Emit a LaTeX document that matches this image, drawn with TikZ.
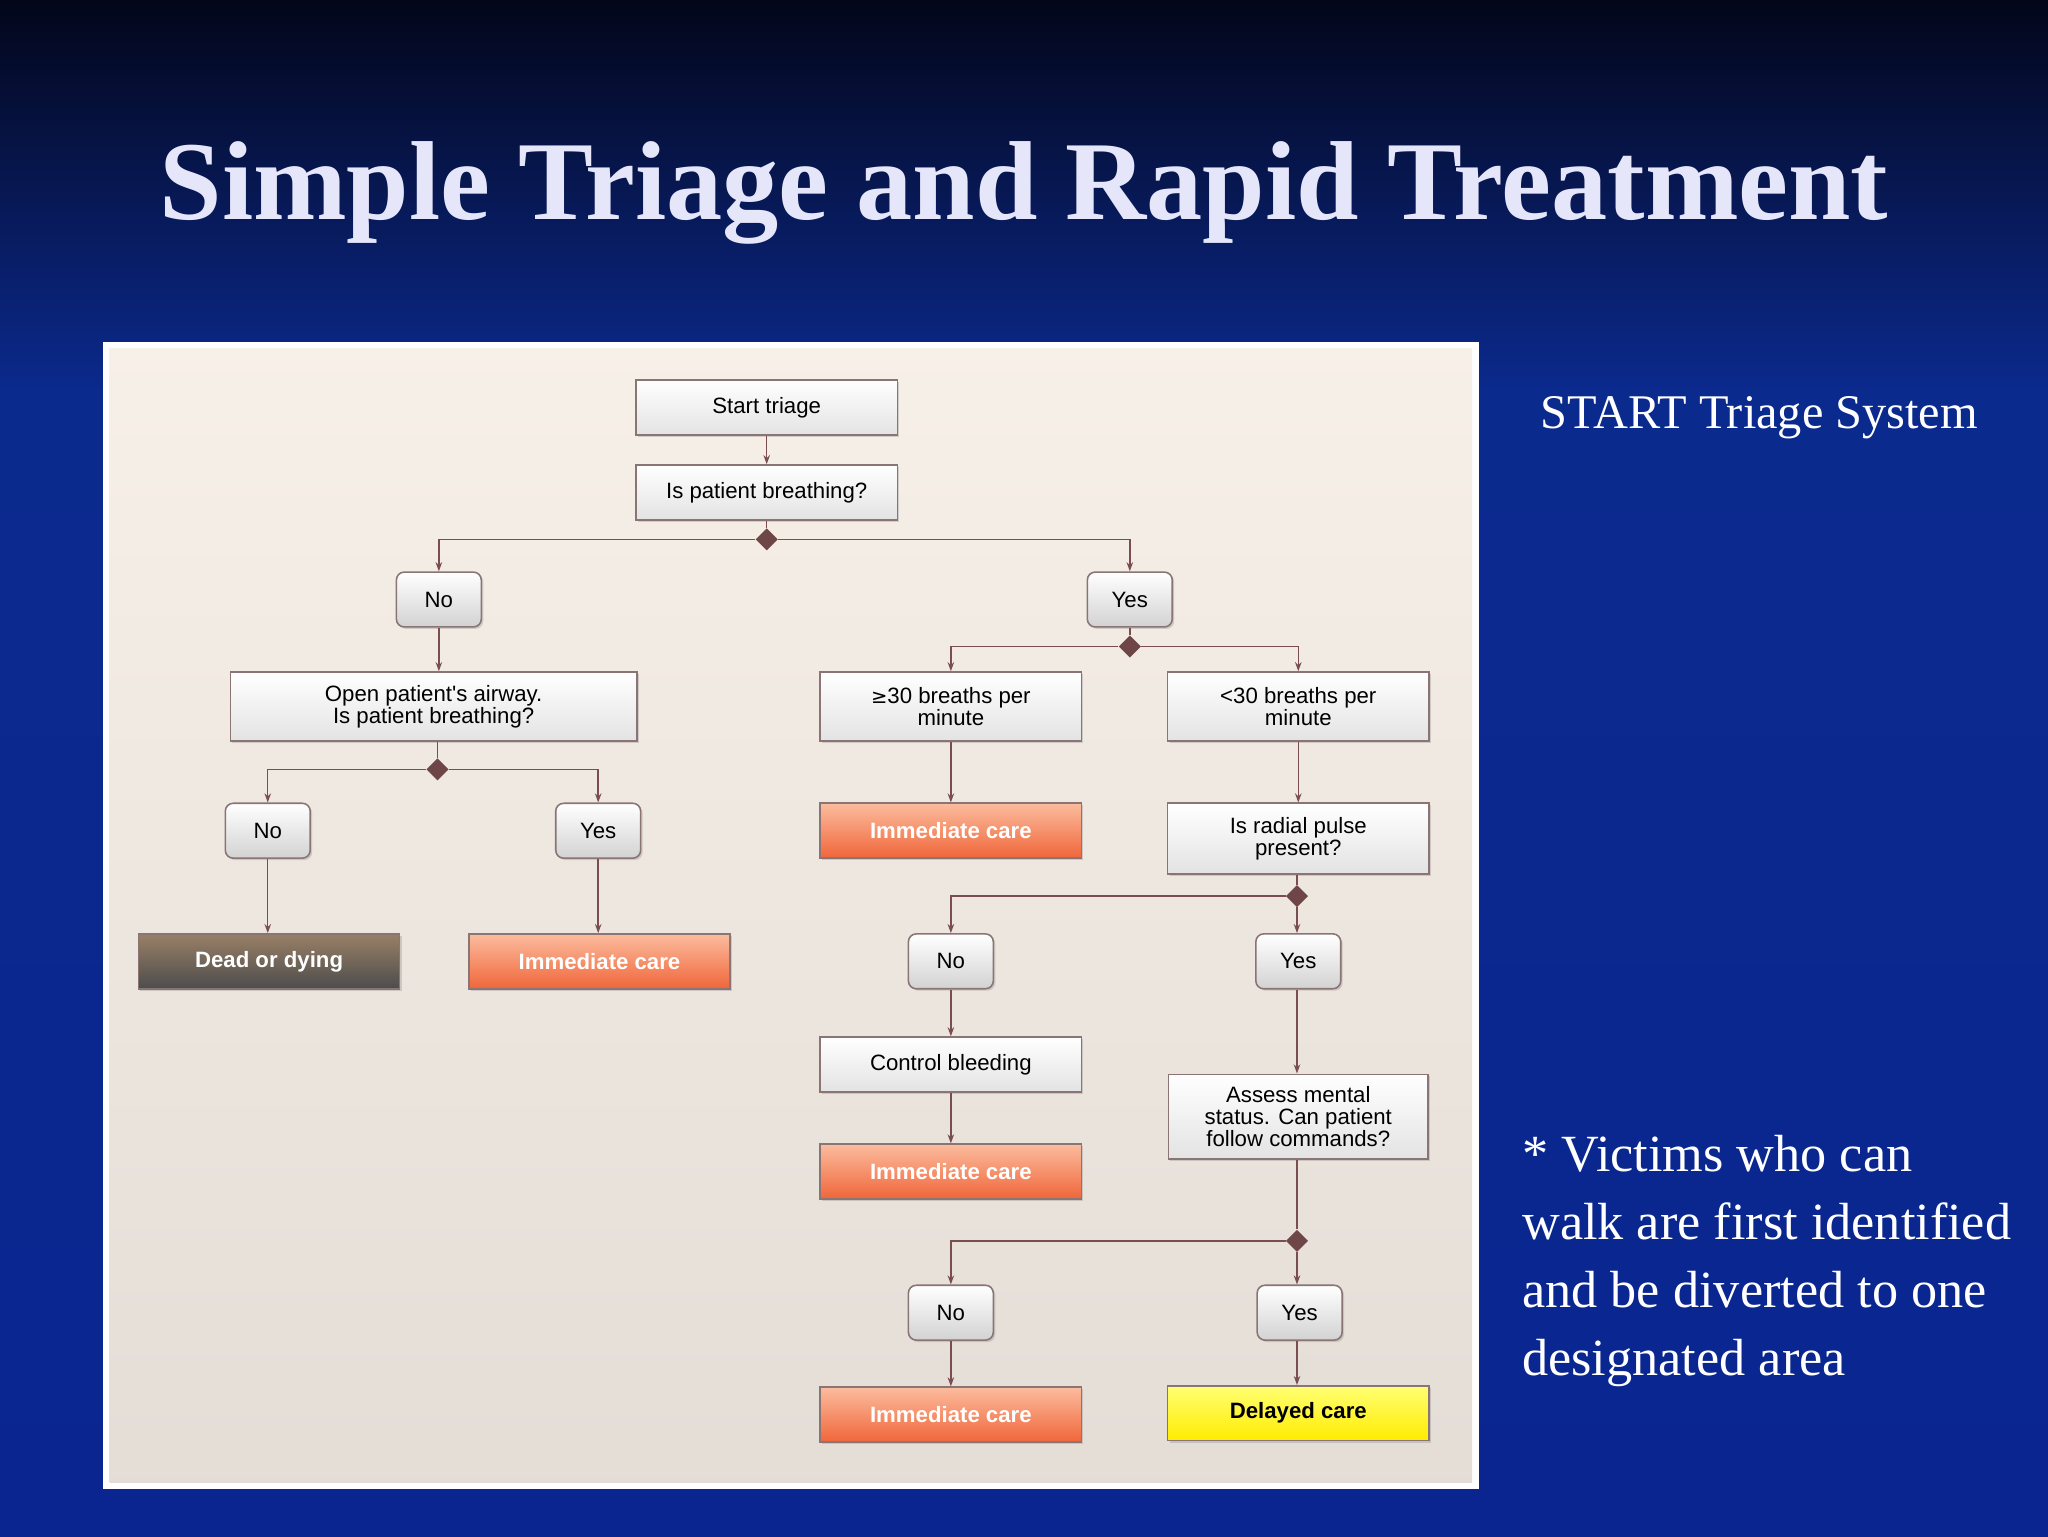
\documentclass[tikz,border=0pt]{standalone}
\usepackage{fontspec}
\setmainfont{Liberation Serif}
\newfontfamily\chartfont{Liberation Sans}
\usetikzlibrary{shapes.geometric,arrows.meta,shadows}
\definecolor{navytop}{HTML}{03061A}
\definecolor{navy}{HTML}{0B2A8E}
\definecolor{navylow}{HTML}{0A2590}
\definecolor{cream}{HTML}{F6EEE6}
\definecolor{lnc}{HTML}{7A4E50}
\definecolor{brd}{HTML}{8A7474}
\definecolor{titlec}{HTML}{E6E6FA}
\definecolor{orlight}{HTML}{FBBC9E}
\definecolor{ordark}{HTML}{F0663A}
\tikzset{
  box/.style={draw=brd,line width=1.2pt,top color=white,bottom color=gray!22,minimum width=200pt,inner sep=0pt,align=center,font=\chartfont\fontsize{17}{17}\selectfont,drop shadow={shadow xshift=1.5pt,shadow yshift=-1.5pt,opacity=.3}},
  ans/.style={box,rounded corners=6pt,minimum width=65pt,minimum height=42pt,top color=white,bottom color=gray!35},
  imm/.style={box,minimum height=42pt,top color=orlight,bottom color=ordark,text=white,font=\chartfont\bfseries\fontsize{17}{17}\selectfont},
  dead/.style={box,minimum height=42pt,top color=gray!60!brown,bottom color=black!70,text=white,font=\chartfont\bfseries\fontsize{17}{17}\selectfont},
  dly/.style={box,minimum height=42pt,top color=yellow!55,bottom color=yellow!85!orange,font=\chartfont\bfseries\fontsize{17}{17}\selectfont},
  dia/.style={diamond,fill=lnc!90!black,inner sep=0pt,minimum width=17pt,minimum height=17pt},
  arr/.style={draw=lnc,line width=1.1pt,-{Stealth[length=7pt,width=5pt]}},
  ln/.style={draw=lnc,line width=1.1pt},
}
\begin{document}
\begin{tikzpicture}[x=1pt,y=-1pt]
\useasboundingbox (0,0) rectangle (1568,1176);
\shade[top color=navytop,bottom color=navy] (0,0) rectangle (1568,300);
\shade[top color=navy,bottom color=navylow] (0,299.5) rectangle (1568,1176);
\node (title) [text=titlec,font=\bfseries\fontsize{86}{86}\selectfont] at (784,148) {Simple Triage and Rapid Treatment};
\node (sub) [text=white,font=\fontsize{37}{37}\selectfont] at (1347,320) {START Triage System};
\node (note) [text=white,anchor=north west,align=left,font=\fontsize{40}{52}\selectfont] at (1162,866) {* Victims who can\\walk are first identified\\and be diverted to one\\designated area};
\fill[white] (79,262) rectangle (1132,1140);
\shade[top color=cream!90!white,bottom color=cream!85!gray] (84,267) rectangle (1127,1135);
% nodes
\node (start) [box,minimum height=42pt] at (587,312) {Start triage};
\node (br) [box,minimum height=42pt] at (587,377) {Is patient breathing?};
\node (d1) [dia] at (587,413) {};
\node (no1) [ans] at (336,459) {No};
\node (yes1) [ans] at (865,459) {Yes};
\node (air) [box,minimum width=311pt,minimum height=53pt] at (332,541) {Open patient's airway.\\Is patient breathing?};
\node (d2) [dia] at (335,589) {};
\node (no2) [ans] at (205,636) {No};
\node (yes2) [ans] at (458,636) {Yes};
\node (dead) [dead] at (206,736) {Dead or dying};
\node (imm1) [imm] at (459,736) {Immediate care};
\node (d3) [dia] at (865,495) {};
\node (ge) [box,minimum height=53pt] at (728,541) {{\fontspec{DejaVu Sans}\fontsize{15}{15}\selectfont ≥}30 breaths per\\minute};
\node (lt) [box,minimum height=53pt] at (994,541) {<30 breaths per\\minute};
\node (imm2) [imm] at (728,636) {Immediate care};
\node (rad) [box,minimum height=54pt] at (994,642) {Is radial pulse\\present?};
\node (d4) [dia] at (993,686) {};
\node (no3) [ans] at (728,736) {No};
\node (yes3) [ans] at (994,736) {Yes};
\node (cb) [box,minimum height=42pt] at (728,815) {Control bleeding};
\node (imm3) [imm] at (728,897) {Immediate care};
\node (am) [box,minimum width=199pt,minimum height=65pt] at (994,855) {Assess mental\\status. Can patient\\follow commands?};
\node (d5) [dia] at (993,950) {};
\node (no4) [ans] at (728,1005) {No};
\node (yes4) [ans] at (995,1005) {Yes};
\node (imm4) [imm] at (728,1083) {Immediate care};
\node (del) [dly] at (994,1082) {Delayed care};
% connectors
\draw[arr] (start) -- (br);
\draw[ln] (br) -- (d1);
\draw[arr] (d1) -| (no1);
\draw[arr] (d1) -| (yes1);
\draw[arr] (no1) -- (air.north -| no1);
\draw[ln] (air.south -| d2) -- (d2);
\draw[arr] (d2) -| (no2);
\draw[arr] (d2) -| (yes2);
\draw[arr] (no2) -- (dead.north -| no2);
\draw[arr] (yes2) -- (imm1.north -| yes2);
\draw[ln] (yes1) -- (d3);
\draw[arr] (d3) -| (ge);
\draw[arr] (d3) -| (lt);
\draw[arr] (ge) -- (imm2);
\draw[arr] (lt) -- (rad);
\draw[ln] (rad.south -| d4) -- (d4);
\draw[arr] (d4) -| (no3);
\draw[arr] (d4) -- (yes3.north -| d4);
\draw[arr] (no3) -- (cb);
\draw[arr] (cb) -- (imm3);
\draw[arr] (yes3.south -| d4) -- (am.north -| d4);
\draw[ln] (am.south -| d5) -- (d5);
\draw[arr] (d5) -| (no4);
\draw[arr] (d5) -- (yes4.north -| d5);
\draw[arr] (no4) -- (imm4);
\draw[arr] (yes4.south -| d5) -- (del.north -| d5);
\end{tikzpicture}
\end{document}
